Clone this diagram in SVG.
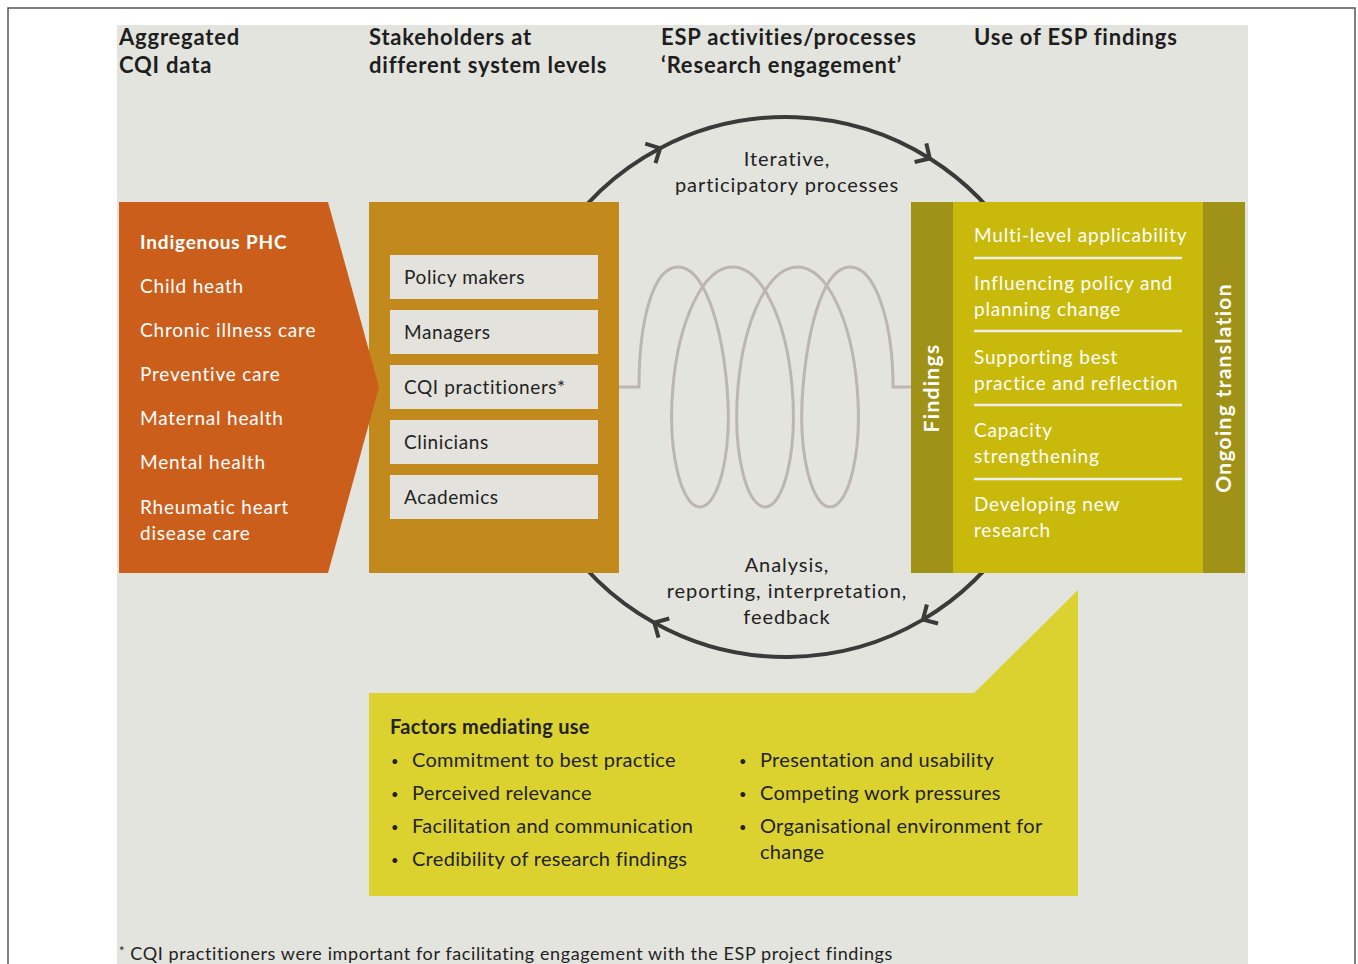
<svg xmlns="http://www.w3.org/2000/svg" width="1358" height="964" viewBox="0 0 1358 964">
<defs>
<style>
.t{font-family:Lato,"Liberation Sans",sans-serif;}
.hd{font-family:Lato,"Liberation Sans",sans-serif;font-weight:bold;font-size:22px;fill:#1e1e1e;letter-spacing:0.8px;}
.wl{font-family:Lato,"Liberation Sans",sans-serif;font-size:19px;fill:#ffffff;letter-spacing:0.8px;}
.dk{font-family:Lato,"Liberation Sans",sans-serif;font-size:19px;fill:#222222;letter-spacing:0.6px;}
.ct{font-family:Lato,"Liberation Sans",sans-serif;font-size:20px;fill:#222222;letter-spacing:0.95px;}
.bl{font-family:Lato,"Liberation Sans",sans-serif;font-size:20px;fill:#222222;letter-spacing:0.3px;}
.dot{font-family:Lato,"Liberation Sans",sans-serif;font-size:13px;fill:#222222;}
.rv{font-family:Lato,"Liberation Sans",sans-serif;font-size:21px;font-weight:bold;fill:#ffffff;letter-spacing:1.3px;}
.sb{fill:#e3e2dc;}
.sep{stroke:#eeeeea;stroke-width:2.5;}
.arc{fill:none;stroke:#3a3a3a;stroke-width:4;}
</style>
<marker id="chev" markerUnits="userSpaceOnUse" viewBox="-20 -20 40 40" markerWidth="40" markerHeight="40" refX="0" refY="0" orient="auto" overflow="visible">
<path d="M -11 -11 L 0 0 L -11 11" fill="none" stroke="#3a3a3a" stroke-width="4" stroke-linecap="butt"/>
</marker>
</defs>
<rect x="0" y="0" width="1358" height="964" fill="#ffffff"/>
<path d="M 8 970 L 8 8 L 1355 8 L 1355 970" fill="none" stroke="#555555" stroke-width="1.5"/>
<rect x="117" y="25" width="1131" height="945" fill="#e4e4df"/>

<g id="headers">
<text class="hd" x="119" y="45">Aggregated</text>
<text class="hd" x="119" y="73">CQI data</text>
<text class="hd" x="369" y="45">Stakeholders at</text>
<text class="hd" x="369" y="73">different system levels</text>
<text class="hd" x="661" y="45">ESP activities/processes</text>
<text class="hd" x="661" y="73">‘Research engagement’</text>
<text class="hd" x="974" y="45">Use of ESP findings</text>
</g>

<g id="connectors">
<path class="arc" d="M 516 387 A 270 270 0 0 1 660.1 148.2" marker-end="url(#chev)"/>
<path class="arc" d="M 660.1 148.2 A 270 270 0 0 1 929.8 158.5" marker-end="url(#chev)"/>
<path class="arc" d="M 929.8 158.5 A 270 270 0 0 1 923 619.6" marker-end="url(#chev)"/>
<path class="arc" d="M 923 619.6 A 270 270 0 0 1 654.3 622.7" marker-end="url(#chev)"/>
<path class="arc" d="M 654.3 622.7 A 270 270 0 0 1 516 387"/>
</g>

<g id="coil">
<path fill="none" stroke="#bdb5b2" stroke-width="3" d="M 619 387 L 639 387 C 639 320.7 653 267 678 267 C 703 267 721.3 320.7 727 387 C 732.7 453.3 718.2 507 700 507 C 681.8 507 667.2 453.3 672.9 387 C 678.7 320.7 702.9 267 732.5 267 C 762.1 267 786.4 320.7 792.1 387 C 797.8 453.3 783.2 507 765 507 C 746.8 507 732.3 453.3 738 387 C 743.7 320.7 767.9 267 797.5 267 C 827.1 267 851.4 320.7 857.1 387 C 862.8 453.3 848.3 507 830.1 507 C 811.9 507 797.3 453.3 803 387 C 808.7 320.7 825 267 850 267 C 875 267 893 320.7 893 387 L 911 387"/>
</g>

<g id="cycle-labels">
<text class="ct" x="787" y="166" text-anchor="middle">Iterative,</text>
<text class="ct" x="787" y="192" text-anchor="middle">participatory processes</text>
<text class="ct" x="787" y="572" text-anchor="middle">Analysis,</text>
<text class="ct" x="787" y="598" text-anchor="middle">reporting, interpretation,</text>
<text class="ct" x="787" y="624" text-anchor="middle">feedback</text>
</g>

<g id="stakeholders">
<rect x="369" y="202" width="250" height="371" fill="#c28a1c"/>
<rect class="sb" x="390" y="255" width="208" height="44"/>
<rect class="sb" x="390" y="310" width="208" height="44"/>
<rect class="sb" x="390" y="365" width="208" height="44"/>
<rect class="sb" x="390" y="420" width="208" height="44"/>
<rect class="sb" x="390" y="475" width="208" height="44"/>
<text class="dk" x="404" y="284">Policy makers</text>
<text class="dk" x="404" y="339">Managers</text>
<text class="dk" x="404" y="394">CQI practitioners*</text>
<text class="dk" x="404" y="449">Clinicians</text>
<text class="dk" x="404" y="504">Academics</text>
</g>

<g id="cqi-data">
<polygon points="119,202 328,202 379,387 328,573 119,573" fill="#cc5e1c"/>
<text class="wl" x="140" y="249" font-weight="bold" font-size="20">Indigenous PHC</text>
<text class="wl" x="140" y="293">Child heath</text>
<text class="wl" x="140" y="337">Chronic illness care</text>
<text class="wl" x="140" y="381">Preventive care</text>
<text class="wl" x="140" y="425">Maternal health</text>
<text class="wl" x="140" y="469">Mental health</text>
<text class="wl" x="140" y="514">Rheumatic heart</text>
<text class="wl" x="140" y="540">disease care</text>
</g>

<g id="findings">
<rect x="911" y="202" width="334" height="371" fill="#c8b90a"/>
<rect x="911" y="202" width="42" height="371" fill="#9f9216"/>
<rect x="1203" y="202" width="42" height="371" fill="#9f9216"/>
<text class="rv" transform="translate(939 388) rotate(-90)" text-anchor="middle">Findings</text>
<text class="rv" transform="translate(1231 388) rotate(-90)" text-anchor="middle">Ongoing translation</text>
<text class="wl" x="974" y="242">Multi-level applicability</text>
<line class="sep" x1="974" y1="258" x2="1182" y2="258"/>
<text class="wl" x="974" y="290">Influencing policy and</text>
<text class="wl" x="974" y="316">planning change</text>
<line class="sep" x1="974" y1="331" x2="1182" y2="331"/>
<text class="wl" x="974" y="364">Supporting best</text>
<text class="wl" x="974" y="390">practice and reflection</text>
<line class="sep" x1="974" y1="405" x2="1182" y2="405"/>
<text class="wl" x="974" y="437">Capacity</text>
<text class="wl" x="974" y="463">strengthening</text>
<line class="sep" x1="974" y1="479" x2="1182" y2="479"/>
<text class="wl" x="974" y="511">Developing new</text>
<text class="wl" x="974" y="537">research</text>
</g>

<g id="factors">
<polygon points="369,693 974,693 1078,590 1078,896 369,896" fill="#dcd22f"/>
<text class="bl" x="390" y="734" font-weight="bold" font-size="21" letter-spacing="0.8">Factors mediating use</text>
<text class="dot" x="391" y="766">•</text>
<text class="bl" x="412" y="767">Commitment to best practice</text>
<text class="dot" x="391" y="799">•</text>
<text class="bl" x="412" y="800">Perceived relevance</text>
<text class="dot" x="391" y="832">•</text>
<text class="bl" x="412" y="833">Facilitation and communication</text>
<text class="dot" x="391" y="865">•</text>
<text class="bl" x="412" y="866">Credibility of research findings</text>
<text class="dot" x="739" y="766">•</text>
<text class="bl" x="760" y="767">Presentation and usability</text>
<text class="dot" x="739" y="799">•</text>
<text class="bl" x="760" y="800">Competing work pressures</text>
<text class="dot" x="739" y="832">•</text>
<text class="bl" x="760" y="833">Organisational environment for</text>
<text class="bl" x="760" y="859">change</text>
</g>

<g id="footnote">
<text class="t" x="119" y="960" font-size="18" fill="#222222" letter-spacing="0.6"><tspan font-size="13" dy="-4">*</tspan><tspan dy="4"> CQI practitioners were important for facilitating engagement with the ESP project findings</tspan></text>
</g>
</svg>
